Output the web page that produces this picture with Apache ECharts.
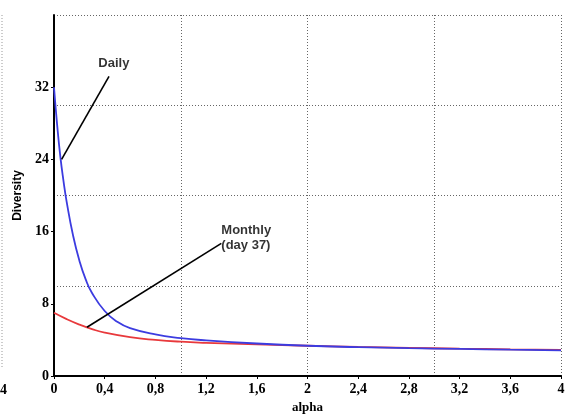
<!DOCTYPE html>
<html>
<head>
<meta charset="utf-8">
<script src="https://cdn.jsdelivr.net/npm/echarts@6/dist/echarts.min.js"></script>
<style>html,body{margin:0;padding:0;background:#fff}#c{width:570px;height:419px}</style>
</head>
<body>
<div id="c"></div>
<script>
var alphaDaily = [0, 0.025, 0.05, 0.075, 0.1, 0.15, 0.2, 0.25, 0.3, 0.4, 0.5, 0.6, 0.8, 1.0, 1.2, 1.6, 2.0, 2.4, 2.8, 3.2, 3.6, 4.0];
var daily = [32, 27.8, 24.3, 21.6, 19.3, 15.6, 12.8, 10.7, 9.2, 7.2, 6.0, 5.3, 4.6, 4.2, 3.95, 3.6, 3.35, 3.2, 3.08, 3.0, 2.92, 2.85];
var alphaMonthly = [0, 0.1, 0.2, 0.3, 0.4, 0.6, 0.8, 1.0, 1.2, 1.6, 2.0, 2.4, 2.8, 3.2, 3.6, 4.0];
var monthly = [7.0, 6.3, 5.7, 5.2, 4.8, 4.3, 4.0, 3.8, 3.68, 3.5, 3.35, 3.22, 3.12, 3.03, 2.96, 2.9];
var xTicks = [0, 0.4, 0.8, 1.2, 1.6, 2, 2.4, 2.8, 3.2, 3.6, 4];
var yTicks = [0, 8, 16, 24, 32];
var dailyPointer = [[0.06, 24], [0.434, 33.2]];
var monthlyPointer = [[0.26, 5.4], [1.32, 14.7]];
var dailyLabel = [0.35, 34.6, 'Daily'];
var monthlyLabel = [1.32, 15.3, 'Monthly\n(day 37)'];

function zip(xs, ys) { return xs.map(function (x, i) { return [x, ys[i]]; }); }
var chart = echarts.init(document.getElementById('c'));
var serif = 'Liberation Serif';
var sans = 'Liberation Sans';
chart.setOption({
  animation: false,
  grid: { left: 54, right: 9, top: 15, bottom: 43 },
  xAxis: [{
    type: 'value', min: 0, max: 4,
    name: 'alpha', nameLocation: 'middle', nameGap: 23,
    nameTextStyle: { fontFamily: serif, fontWeight: 'bold', fontSize: 13, color: '#000' },
    axisLine: { show: true, onZero: false, lineStyle: { color: '#000', width: 2 } },
    axisTick: { show: true, customValues: xTicks, length: 3, lineStyle: { color: '#000' } },
    axisLabel: { customValues: xTicks, margin: 6, fontFamily: serif, fontWeight: 'bold', fontSize: 14, color: '#000',
      formatter: function (v) { return String(Math.round(v * 10) / 10).replace('.', ','); } },
    splitLine: { show: false }
  }, {
    type: 'value', min: 0, max: 4, interval: 1, position: 'bottom',
    axisLine: { show: false }, axisTick: { show: false }, axisLabel: { show: false },
    splitLine: { show: true, lineStyle: { color: '#666', type: [1, 2], width: 1 } }
  }],
  yAxis: [{
    type: 'value', min: 0, max: 40,
    name: 'Diversity', nameLocation: 'middle', nameGap: 27,
    nameTextStyle: { fontFamily: sans, fontWeight: 'bold', fontSize: 12, color: '#000' },
    axisLine: { show: true, onZero: false, lineStyle: { color: '#000', width: 2 } },
    axisTick: { show: true, customValues: yTicks, length: 3, lineStyle: { color: '#000' } },
    axisLabel: { customValues: yTicks, margin: 5, fontFamily: serif, fontWeight: 'bold', fontSize: 14, color: '#000' },
    splitLine: { show: false }
  }, {
    type: 'value', min: 0, max: 40, interval: 10, position: 'left',
    axisLine: { show: false }, axisTick: { show: false }, axisLabel: { show: false },
    splitLine: { show: true, lineStyle: { color: '#666', type: [1, 2], width: 1 } }
  }],
  series: [{
    type: 'line', name: 'Monthly', xAxisIndex: 0, yAxisIndex: 0,
    data: zip(alphaMonthly, monthly), smooth: true, showSymbol: false,
    lineStyle: { color: '#e8393c', width: 1.8 }, z: 3,
    markLine: { silent: true, symbol: 'none', label: { show: false },
      lineStyle: { color: '#000', width: 1.6, type: 'solid' },
      data: [[{ coord: monthlyPointer[0] }, { coord: monthlyPointer[1] }]] }
  }, {
    type: 'line', name: 'Daily', xAxisIndex: 0, yAxisIndex: 0,
    data: zip(alphaDaily, daily), smooth: true, showSymbol: false,
    lineStyle: { color: '#3c3ce0', width: 1.8 }, z: 4,
    markLine: { silent: true, symbol: 'none', label: { show: false },
      lineStyle: { color: '#000', width: 1.6, type: 'solid' },
      data: [[{ coord: dailyPointer[0] }, { coord: dailyPointer[1] }]] }
  }, {
    type: 'scatter', xAxisIndex: 0, yAxisIndex: 0, symbolSize: 0, silent: true,
    data: [dailyLabel, monthlyLabel],
    label: { show: true, position: 'right', distance: 0, formatter: function (p) { return p.data[2]; },
      fontFamily: sans, fontWeight: 'bold', fontSize: 13, color: '#000', lineHeight: 15, align: 'left' }
  }],
  graphic: [
    { type: 'line', shape: { x1: 2, y1: 15, x2: 2, y2: 368 }, style: { stroke: '#999', lineDash: [1, 2], lineWidth: 1 } },
    { type: 'text', left: 0, top: 383, style: { text: '4', font: 'bold 14px "Liberation Serif"', fill: '#000' } }
  ]
});
</script>
</body>
</html>
